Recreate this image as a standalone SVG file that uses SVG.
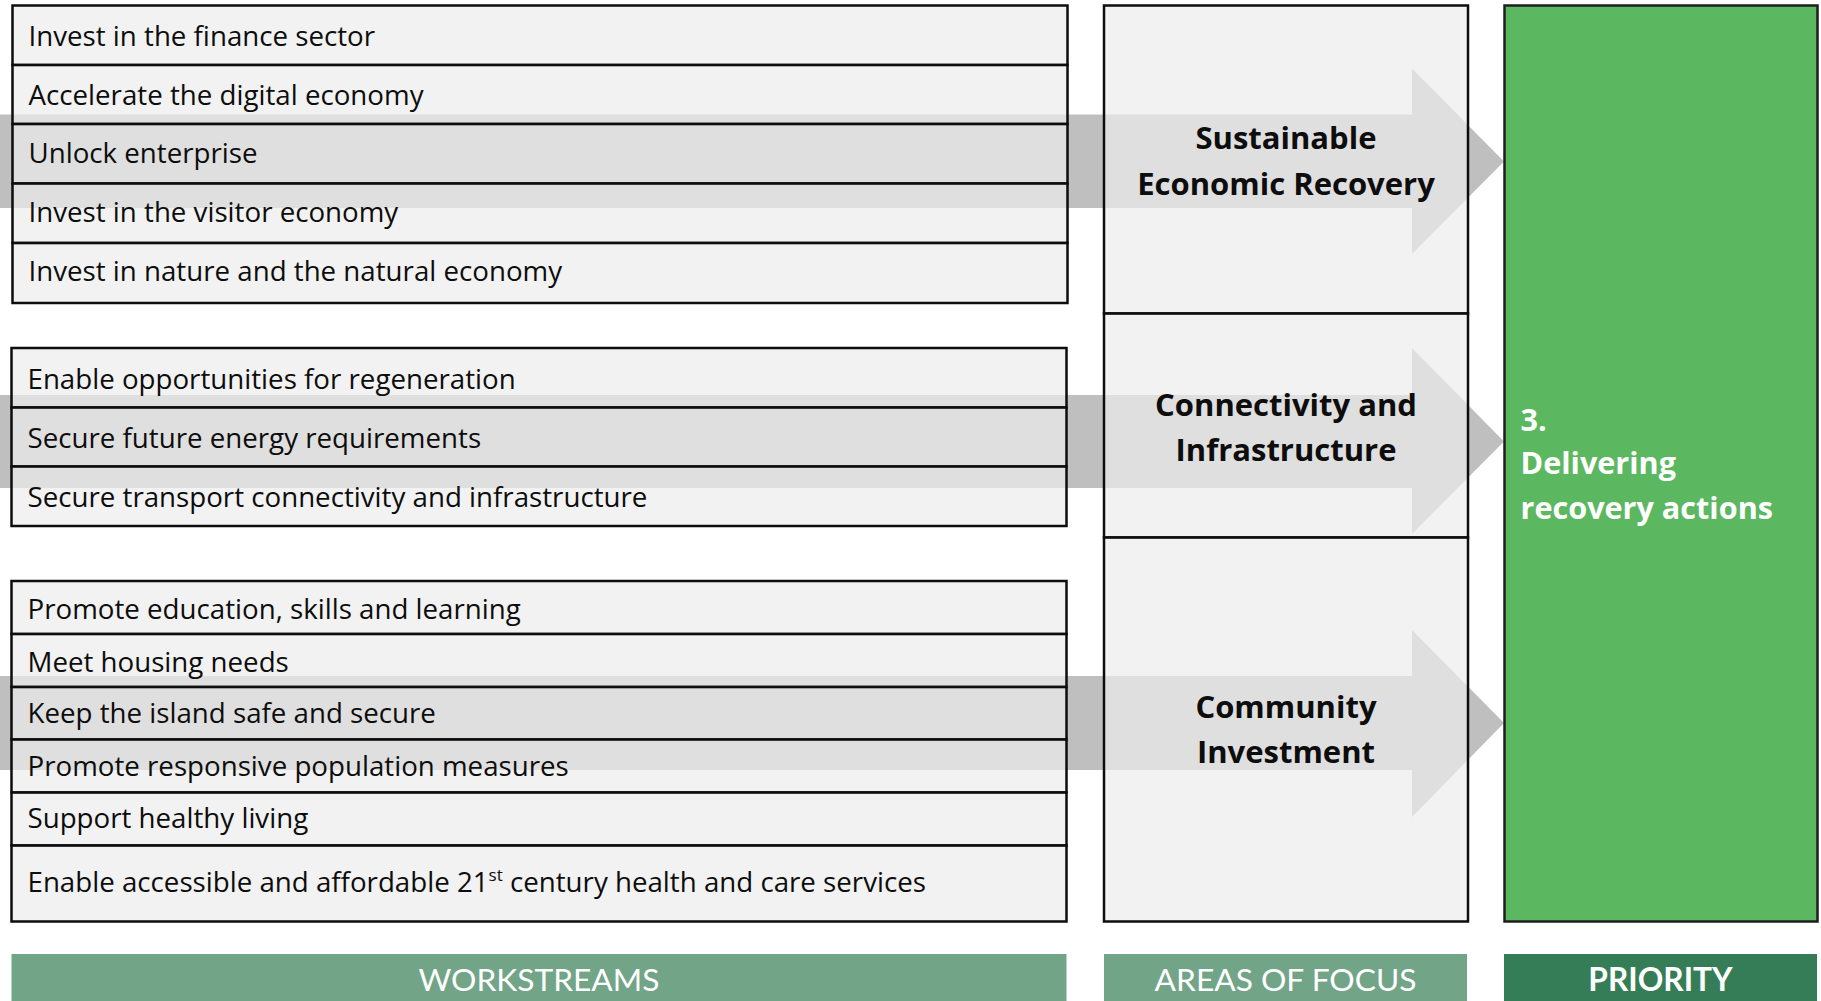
<svg xmlns="http://www.w3.org/2000/svg" width="1821" height="1001" viewBox="0 0 1821 1001">
<style>
.bg{fill:#FFFFFF}
.arrow{fill:#BFBFBF}
.row{fill:#EDEDED;fill-opacity:0.7;stroke:#0D0D0D;stroke-width:2.5}
.area{fill:#EDEDED;fill-opacity:0.7;stroke:#0D0D0D;stroke-width:2.5}
.prio{fill:#5CB860;stroke:#1E1E1E;stroke-width:2.5}
.ws{font-family:"Open Sans",Lato,sans-serif;font-size:27.7px;fill:#0D0D0D}
.at{font-family:"Open Sans",Lato,sans-serif;font-size:31px;font-weight:bold;fill:#0D0D0D;text-anchor:middle}
.pt{font-family:"Open Sans",Lato,sans-serif;font-size:30.6px;font-weight:bold;fill:#FFFFFF}
.lab{fill:#72A588}
.labd{fill:#357D56}
.lt{font-family:Lato,"Open Sans",sans-serif;font-size:31.7px;fill:#FFFFFF;text-anchor:middle}
</style>
<rect class="bg" x="0" y="0" width="1821" height="1001"/>
<g id="connectors">
<polygon class="arrow" points="0,114.5 1412,114.5 1412,68.5 1504,161.5 1412,254 1412,208 0,208"/>
<polygon class="arrow" points="0,395 1412,395 1412,348 1504,441.5 1412,534 1412,488 0,488"/>
<polygon class="arrow" points="0,676 1412,676 1412,630 1504,723 1412,817 1412,770 0,770"/>
</g>
<g id="ws-economic">
<rect class="row" x="12.5" y="5.5" width="1055" height="59.5"/>
<rect class="row" x="12.5" y="65" width="1055" height="59"/>
<rect class="row" x="12.5" y="124" width="1055" height="59.5"/>
<rect class="row" x="12.5" y="183.5" width="1055" height="59.5"/>
<rect class="row" x="12.5" y="243" width="1055" height="60"/>
<text class="ws" x="28.5" y="45.5">Invest in the finance sector</text>
<text class="ws" x="28.5" y="105">Accelerate the digital economy</text>
<text class="ws" x="28.5" y="163.3">Unlock enterprise</text>
<text class="ws" x="28.5" y="221.7">Invest in the visitor economy</text>
<text class="ws" x="28.5" y="280.7">Invest in nature and the natural economy</text>
</g>
<g id="ws-infrastructure">
<rect class="row" x="11.5" y="348" width="1055" height="59.5"/>
<rect class="row" x="11.5" y="407.5" width="1055" height="59"/>
<rect class="row" x="11.5" y="466.5" width="1055" height="59.5"/>
<text class="ws" x="27.5" y="388.5">Enable opportunities for regeneration</text>
<text class="ws" x="27.5" y="447.5">Secure future energy requirements</text>
<text class="ws" x="27.5" y="506.5">Secure transport connectivity and infrastructure</text>
</g>
<g id="ws-community">
<rect class="row" x="11.5" y="581" width="1055" height="53"/>
<rect class="row" x="11.5" y="634" width="1055" height="53"/>
<rect class="row" x="11.5" y="687" width="1055" height="52.5"/>
<rect class="row" x="11.5" y="739.5" width="1055" height="53"/>
<rect class="row" x="11.5" y="792.5" width="1055" height="53"/>
<rect class="row" x="11.5" y="845.5" width="1055" height="76"/>
<text class="ws" x="27.5" y="619.3">Promote education, skills and learning</text>
<text class="ws" x="27.5" y="671.7">Meet housing needs</text>
<text class="ws" x="27.5" y="723.3">Keep the island safe and secure</text>
<text class="ws" x="27.5" y="776">Promote responsive population measures</text>
<text class="ws" x="27.5" y="828.3">Support healthy living</text>
<text class="ws" x="27.5" y="892.3">Enable accessible and affordable 21<tspan font-size="17" dy="-11">st</tspan><tspan dy="11"> century health and care services</tspan></text>
</g>
<g id="area-economic">
<rect class="area" x="1104" y="5.5" width="364" height="308"/>
<text class="at" x="1286" y="148.5">Sustainable</text>
<text class="at" x="1286" y="194.5">Economic Recovery</text>
</g>
<g id="area-infrastructure">
<rect class="area" x="1104" y="313.5" width="364" height="224"/>
<text class="at" x="1286" y="416">Connectivity and</text>
<text class="at" x="1286" y="460.5">Infrastructure</text>
</g>
<g id="area-community">
<rect class="area" x="1104" y="537.5" width="364" height="384"/>
<text class="at" x="1286" y="718">Community</text>
<text class="at" x="1286" y="763">Investment</text>
</g>
<g id="priority">
<rect class="prio" x="1504.5" y="5.5" width="313" height="916"/>
<text class="pt" x="1520.5" y="430.7">3.</text>
<text class="pt" x="1520.5" y="474">Delivering</text>
<text class="pt" x="1520.5" y="519.3">recovery actions</text>
</g>
<g id="label-workstreams">
<rect class="lab" x="11.5" y="954" width="1055" height="50"/>
<text class="lt" x="539" y="990.7">WORKSTREAMS</text>
</g>
<g id="label-areas">
<rect class="lab" x="1104" y="954" width="363" height="50"/>
<text class="lt" x="1285.5" y="990.7">AREAS OF FOCUS</text>
</g>
<g id="label-priority">
<rect class="labd" x="1504" y="954" width="313" height="50"/>
<text class="lt" x="1660.5" y="990.7" font-weight="bold">PRIORITY</text>
</g>
</svg>
